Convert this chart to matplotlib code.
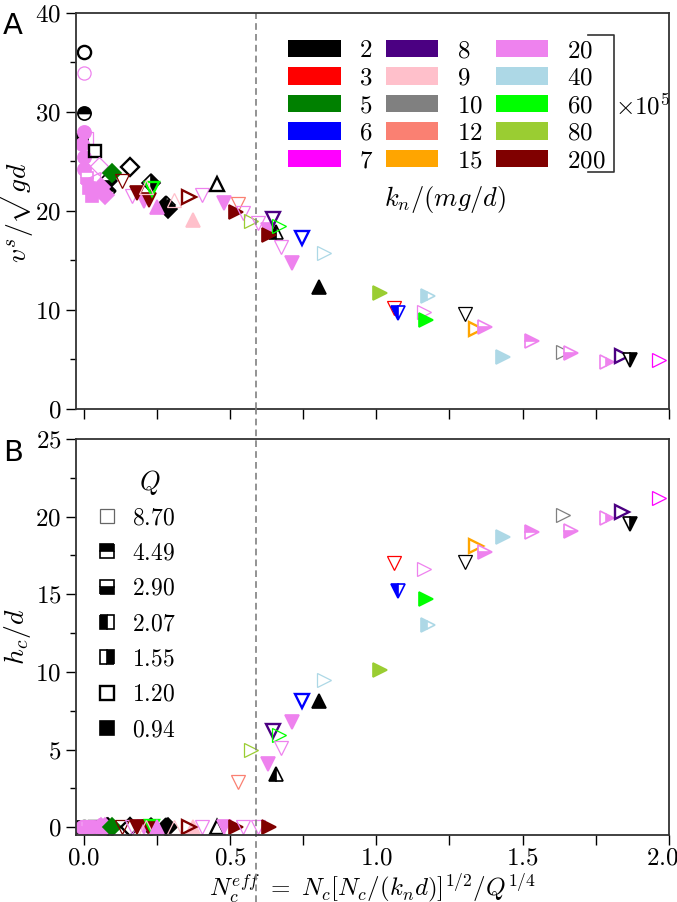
import numpy as np
import matplotlib.pyplot as plt
from matplotlib.patches import Patch
from matplotlib.lines import Line2D
from matplotlib.ticker import MultipleLocator
from matplotlib.transforms import ScaledTranslation

plt.rcParams['font.family'] = 'cmr10'
plt.rcParams['mathtext.fontset'] = 'cm'
plt.rcParams['axes.unicode_minus'] = False
plt.rcParams['axes.formatter.use_mathtext'] = True

# k_n (x10^5) -> colour
kn_values = [2, 3, 5, 6, 7, 8, 9, 10, 12, 15, 20, 40, 60, 80, 200]
kn_colors = ['black', 'red', 'green', 'blue', 'magenta', 'indigo', 'pink', 'gray',
             'salmon', 'orange', 'violet', 'lightblue', 'lime', 'yellowgreen', 'maroon']

# Q -> fill style of the marker
q_values = [8.70, 4.49, 2.90, 2.07, 1.55, 1.20, 0.94]
q_fill = ['none', 'top', 'bottom', 'left', 'right', 'none', 'full']
q_lw = [0.9, 1.2, 1.2, 1.2, 1.2, 1.7, 1.2]

# one entry per simulation
n_eff = [-0.004, 0.000, 0.000, 0.000, 0.000, -0.005, 0.000, 0.003, 0.012, 0.038,
         0.012, 0.020, 0.030, 0.034, 0.052, 0.085, 0.080, 0.060, 0.075, 0.097,
         0.160, 0.230, 0.283, 0.287, 0.130, 0.165, 0.205, 0.183, 0.224, 0.233,
         0.212, 0.252, 0.310, 0.373, 0.361, 0.405, 0.455, 0.480, 0.529, 0.520,
         0.544, 0.572, 0.595, 0.630, 0.647, 0.658, 0.635, 0.666, 0.673, 0.747,
         0.712, 0.820, 0.803, 1.014, 1.061, 1.075, 1.177, 1.163, 1.170, 1.302,
         1.340, 1.371, 1.433, 1.531, 1.639, 1.664, 1.789, 1.840, 1.867, 1.966]
v_s = [27.2, 36.1, 33.9, 29.9, 28.0, 26.8, 25.5, 24.2, 27.4, 26.1,
       23.3, 22.3, 21.5, 23.2, 24.5, 23.0, 22.0, 22.4, 21.6, 23.8,
       24.4, 22.8, 20.6, 20.2, 23.0, 21.5, 21.0, 21.8, 21.1, 22.2,
       22.4, 20.4, 21.1, 19.1, 21.4, 21.6, 22.7, 20.8, 20.7, 19.9,
       19.8, 19.0, 18.8, 18.1, 19.2, 17.9, 17.6, 18.5, 16.4, 17.3,
       14.7, 15.8, 12.3, 11.7, 10.2, 9.7, 11.4, 9.8, 9.0, 9.6,
       8.1, 8.25, 5.2, 6.9, 5.8, 5.7, 4.7, 5.3, 4.95, 4.95]
h_c = [0.0, 0.0, 0.0, 0.0, 0.0, 0.0, 0.0, 0.0, 0.0, 0.0,
       0.0, 0.0, 0.0, 0.0, 0.0, 0.0, 0.0, 0.0, 0.0, 0.0,
       0.0, 0.0, 0.0, 0.0, 0.0, 0.0, 0.0, 0.0, 0.0, 0.0,
       0.0, 0.0, 0.0, 0.0, 0.0, 0.0, 0.0, 0.0, 2.9, 0.0,
       0.0, 5.0, 0.0, 4.1, 6.2, 3.45, 0.0, 5.97, 5.1, 8.1,
       6.8, 9.46, 8.1, 10.1, 17.0, 15.2, 13.0, 16.6, 14.7, 17.1,
       18.1, 17.7, 18.7, 19.0, 20.1, 19.1, 19.9, 20.3, 19.5, 21.2]
kn = [2, 2, 20, 2, 20, 20, 20, 20, 20, 2,
      20, 20, 20, 20, 20, 2, 2, 20, 20, 5,
      2, 2, 2, 2, 200, 20, 20, 200, 200, 60,
      9, 20, 9, 9, 200, 20, 2, 20, 12, 200,
      20, 80, 20, 20, 8, 2, 200, 60, 20, 6,
      20, 40, 2, 80, 3, 6, 40, 20, 60, 2,
      15, 20, 40, 20, 10, 20, 20, 8, 2, 7]
shape = ['s', 'o', 'o', 'o', 'o', 'o', 'o', 'o', 's', 's',
         's', 's', 's', '<', 'D', 'D', 'D', 'D', 'D', 'D',
         'D', 'D', 'D', 'D', 'v', 'v', 'v', 'v', 'v', 'v',
         '^', '^', '^', '^', '>', 'v', '^', 'v', 'v', '>',
         'v', '>', 'v', 'v', 'v', '^', '>', '>', 'v', 'v',
         'v', '>', '^', '>', 'v', 'v', '>', '>', '>', 'v',
         '>', '>', '>', '>', '>', '>', '>', '>', 'v', '>']
q = [2.07, 1.20, 8.70, 4.49, 0.94, 0.94, 0.94, 0.94, 8.70, 1.20,
     2.90, 0.94, 0.94, 8.70, 8.70, 2.90, 4.49, 0.94, 0.94, 0.94,
     1.20, 1.55, 2.07, 0.94, 8.70, 8.70, 0.94, 0.94, 0.94, 1.20,
     8.70, 0.94, 8.70, 0.94, 1.20, 8.70, 1.20, 0.94, 8.70, 0.94,
     8.70, 8.70, 8.70, 0.94, 1.20, 2.07, 0.94, 8.70, 8.70, 1.20,
     0.94, 8.70, 0.94, 0.94, 8.70, 2.07, 2.07, 8.70, 0.94, 8.70,
     1.20, 2.90, 0.94, 4.49, 8.70, 2.90, 1.55, 1.20, 1.55, 8.70]

fig = plt.figure(figsize=(6.77, 9.02), dpi=100)
ax1 = fig.add_axes([0.1123, 0.5466, 0.876, 0.439])
ax2 = fig.add_axes([0.1123, 0.0743, 0.876, 0.439])

for ax, yv in [(ax1, v_s), (ax2, h_c)]:
    for i in range(len(n_eff)):
        c = kn_colors[kn_values.index(kn[i])]
        k = q_values.index(q[i])
        ms = 9.0 if shape[i] in ['D', 's'] else 10.5
        if shape[i] == 'o':
            ms = 9.5
        ax.plot(n_eff[i], yv[i], marker=shape[i], ls='none', ms=ms,
                color=c, mec=c, mfc=c, mfcalt='white', fillstyle=q_fill[k],
                mew=q_lw[k])
    ax.set_xlim(-0.0256, 2.0)
    ax.xaxis.set_major_locator(MultipleLocator(0.5))
    ax.xaxis.set_minor_locator(MultipleLocator(0.25))
    ax.tick_params(which='both', direction='out', labelsize=18, width=1.0)
    ax.tick_params(axis='x', which='both', length=7, pad=2)
    ax.tick_params(axis='y', which='major', length=7)
    ax.tick_params(axis='y', which='minor', length=4)
    for s in ax.spines.values():
        s.set_linewidth(1.3)
        s.set_color('#333333')

ax1.set_ylim(0, 40)
ax1.yaxis.set_major_locator(MultipleLocator(10))
ax1.yaxis.set_minor_locator(MultipleLocator(5))
ax1.tick_params(axis='x', labelbottom=False)
ax1.set_ylabel(r'$v^s/\sqrt{gd}$', fontsize=20)
ax1.yaxis.set_label_coords(-0.068, 0.5)

ax2.set_ylim(-0.5, 25)
ax2.yaxis.set_major_locator(MultipleLocator(5))
ax2.yaxis.set_minor_locator(MultipleLocator(2.5))
ax2.xaxis.set_major_formatter(plt.FormatStrFormatter(r'$%.1f$'))
ax2.set_ylabel(r'$h_c/d$', fontsize=20)
ax2.yaxis.set_label_coords(-0.072, 0.5)
ax2.set_xlabel(r'$N_c^{eff}\ =\ N_c[N_c/(k_nd)]^{1/2}/Q^{1/4}$', fontsize=18)
ax2.xaxis.set_label_coords(0.5, -0.09)

# threshold line running through both panels
ax1.axvline(0.59, color='gray', lw=1.2, ls=(0, (4, 2.5)))
ax2.axvline(0.59, ymin=-0.17, ymax=1.08, color='gray', lw=1.2, ls=(0, (4, 2.5)),
            clip_on=False)

# colour legend for k_n
handles = [Patch(facecolor=c, edgecolor='none') for c in kn_colors]
labels = [r'$%d$' % v for v in kn_values]
leg1 = ax1.legend(handles, labels, ncol=3, loc='upper left', bbox_to_anchor=(0.3575, 0.932),
                  frameon=False, fontsize=18, handlelength=2.1, handleheight=0.7,
                  handletextpad=0.75, columnspacing=0.5, labelspacing=0.2,
                  borderpad=0, borderaxespad=0)
ax1.plot([0.864, 0.907, 0.907, 0.864], [0.944, 0.944, 0.598, 0.598],
         transform=ax1.transAxes, color='#333333', lw=1.2, clip_on=False)
ax1.text(0.908, 0.765, r'$\times10^5$', transform=ax1.transAxes, fontsize=18,
         va='center', ha='left')
ax1.text(0.623, 0.528, r'$k_n/(mg/d)$', transform=ax1.transAxes, fontsize=19,
         va='center', ha='center')

# fill style legend for Q
q_handles = []
for k in range(len(q_values)):
    ec = '#666666' if k == 0 else 'black'
    q_handles.append(Line2D([], [], marker='s', ls='none', ms=9.5, color='black',
                            mec=ec, mfc='black', mfcalt='white',
                            fillstyle=q_fill[k], mew=q_lw[k]))
leg2 = ax2.legend(q_handles, [r'$%.2f$' % v for v in q_values], loc='upper left',
                  bbox_to_anchor=(0.032, 0.828), frameon=False, fontsize=17,
                  handlelength=1.0, handletextpad=0.55, labelspacing=0.56,
                  borderpad=0, borderaxespad=0)
ax2.text(0.125, 0.891, r'$Q$', transform=ax2.transAxes, fontsize=19,
         va='center', ha='center')

fig.text(0.004, 0.987, 'A', family='DejaVu Sans', fontsize=21, va='top', ha='left')
fig.text(0.004, 0.513, 'B', family='DejaVu Sans', fontsize=21, va='top', ha='left')

# nudge the last x tick label inside the figure, as in the original
fig.canvas.draw()
for tick in ax2.xaxis.get_major_ticks():
    if abs(tick.get_loc() - 2.0) < 1e-9:
        lab = tick.label1
        lab.set_transform(lab.get_transform() + ScaledTranslation(-0.07, 0, fig.dpi_scale_trans))

plt.savefig('out.png', dpi=100)
